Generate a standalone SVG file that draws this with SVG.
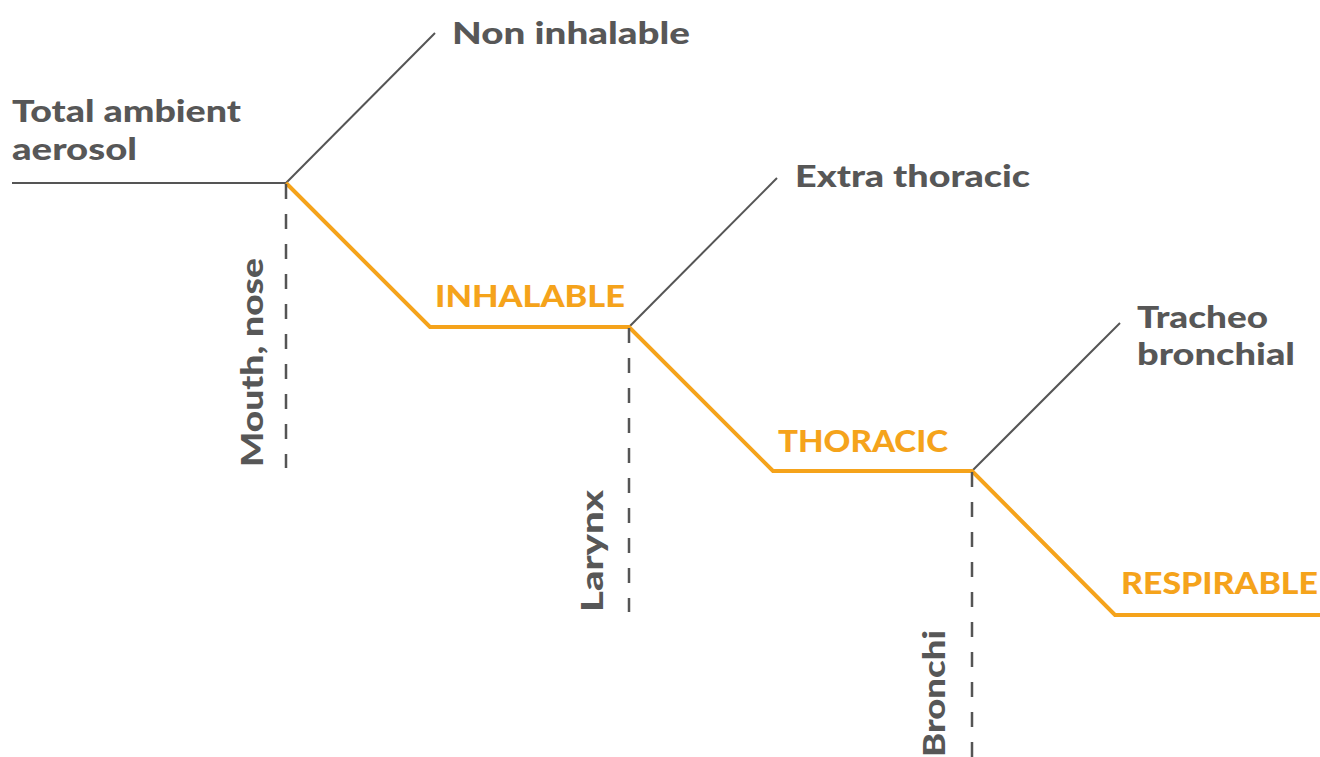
<svg xmlns="http://www.w3.org/2000/svg" width="1320" height="757" viewBox="0 0 1320 757">
<style>
.g{fill:#575757;font-family:Lato,"Open Sans","DejaVu Sans",sans-serif;font-weight:900;font-size:31px}
.o{fill:#F5A31B;font-family:Lato,"Open Sans","DejaVu Sans",sans-serif;font-weight:900;font-size:31px}
.gl{stroke:#555555;stroke-width:2;fill:none}
.ol{stroke:#F5A31B;stroke-width:4;fill:none;stroke-linejoin:miter}
.dl{stroke:#555555;stroke-width:2.5;fill:none;stroke-dasharray:15 15}
</style>
<rect width="1320" height="757" fill="#ffffff"/>
<g id="connectors">
<line class="gl" x1="12" y1="183" x2="286" y2="183"/>
<line class="gl" x1="286" y1="183" x2="435" y2="33"/>
<line class="gl" x1="629" y1="327" x2="777" y2="178"/>
<line class="gl" x1="972" y1="471" x2="1120" y2="323"/>
<polyline class="ol" points="286,183 430,327 629,327 773,471 972,471 1115,615 1320,615"/>
<line class="dl" x1="286" y1="184" x2="286" y2="468"/>
<line class="dl" x1="629" y1="328" x2="629" y2="612"/>
<line class="dl" x1="972" y1="472" x2="972" y2="757"/>
</g>
<g id="total-ambient"><text class="g" x="12" y="122" textLength="229" lengthAdjust="spacingAndGlyphs">Total ambient</text><text class="g" x="12" y="160" textLength="125" lengthAdjust="spacingAndGlyphs">aerosol</text></g>
<g id="non-inhalable"><text class="g" x="452" y="44" textLength="238" lengthAdjust="spacingAndGlyphs">Non inhalable</text></g>
<g id="extra-thoracic"><text class="g" x="795" y="187" textLength="235" lengthAdjust="spacingAndGlyphs">Extra thoracic</text></g>
<g id="tracheo-bronchial"><text class="g" x="1137" y="328" textLength="131" lengthAdjust="spacingAndGlyphs">Tracheo</text><text class="g" x="1137" y="365" textLength="158" lengthAdjust="spacingAndGlyphs">bronchial</text></g>
<g id="inhalable"><text class="o" x="435" y="307" textLength="190" lengthAdjust="spacingAndGlyphs">INHALABLE</text></g>
<g id="thoracic"><text class="o" x="778" y="452" textLength="170" lengthAdjust="spacingAndGlyphs">THORACIC</text></g>
<g id="respirable"><text class="o" x="1121" y="594" textLength="197" lengthAdjust="spacingAndGlyphs">RESPIRABLE</text></g>
<g id="mouth-nose"><text class="g" transform="translate(263,467) rotate(-90)" x="0" y="0" textLength="209" lengthAdjust="spacingAndGlyphs">Mouth, nose</text></g>
<g id="larynx"><text class="g" transform="translate(603,612) rotate(-90)" x="0" y="0" textLength="122" lengthAdjust="spacingAndGlyphs">Larynx</text></g>
<g id="bronchi"><text class="g" transform="translate(945,757) rotate(-90)" x="0" y="0" textLength="127" lengthAdjust="spacingAndGlyphs">Bronchi</text></g>
</svg>
